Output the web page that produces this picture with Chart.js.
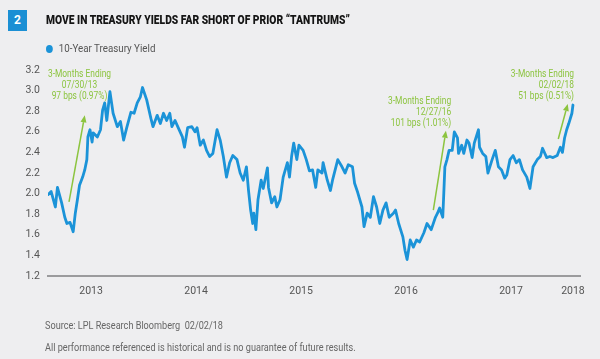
<!DOCTYPE html>
<html>
<head>
<meta charset="utf-8">
<script src="https://cdn.jsdelivr.net/npm/chart.js@4/dist/chart.umd.min.js"></script>
<style>
  html, body { margin: 0; padding: 0; background: #eeeef0; }
  body { width: 600px; height: 359px; position: relative; overflow: hidden;
         font-family: Roboto, "Liberation Sans", sans-serif; }
  #wrap { position: absolute; left: 0; top: 0; width: 600px; height: 359px; }
  .abs { position: absolute; white-space: nowrap; transform-origin: 0 50%; }
  #badge { left: 8px; top: 10px; width: 19px; height: 21px; background: #1b8fd4; color: #fff;
           font-weight: bold; font-size: 12px; line-height: 21px; text-align: center; }
  #title { left: 46px; top: 12px; font-weight: 900; font-size: 13px; color: #151515; line-height: 16px;
           transform: scaleX(0.79); }
  #legend { left: 46px; top: 41px; font-size: 11.5px; color: #555; line-height: 14px; transform: scaleX(0.85); }
  #legend .dot { display: inline-block; width: 8px; height: 8px; border-radius: 50%; background: #1b93d8;
                 margin-right: 7px; vertical-align: -0.5px; }
  .foot { left: 45px; font-size: 11px; color: #666; transform: scaleX(0.83); line-height: 14px; }
</style>
</head>
<body>
<div id="wrap"><canvas id="c" width="600" height="359"></canvas></div>
<div id="badge" class="abs">2</div>
<div id="title" class="abs">MOVE IN TREASURY YIELDS FAR SHORT OF PRIOR “TANTRUMS”</div>
<div id="legend" class="abs"><span class="dot"></span>10-Year Treasury Yield</div>
<div class="abs foot" style="top:319px;">Source: LPL Research Bloomberg &nbsp;02/02/18</div>
<div class="abs foot" style="top:341px;">All performance referenced is historical and is no guarantee of future results.</div>
<script>
// x values: fractional years
const dates = [
2013.09,2013.12,2013.16,2013.18,2013.22,2013.25,2013.27,2013.30,2013.33,2013.35,2013.37,2013.39,2013.42,2013.44,2013.46,2013.47,2013.49,2013.51,2013.52,2013.56,2013.59,2013.61,2013.63,2013.65,2013.68,2013.71,2013.75,2013.78,2013.81,2013.84,2013.88,2013.91,2013.94,2013.97,2013.99,
2014.03,2014.07,2014.09,2014.13,2014.16,2014.19,2014.22,2014.25,2014.27,2014.30,2014.33,2014.37,2014.39,2014.42,2014.46,2014.49,2014.51,2014.54,2014.57,2014.60,2014.63,2014.66,2014.70,2014.73,2014.76,2014.79,2014.82,2014.85,2014.89,2014.92,2014.95,2014.98,
2015.00,2015.02,2015.04,2015.05,2015.07,2015.09,2015.12,2015.14,2015.18,2015.19,2015.22,2015.25,2015.27,2015.30,2015.33,2015.37,2015.39,2015.41,2015.43,2015.46,2015.48,2015.52,2015.55,2015.58,2015.61,2015.64,2015.66,2015.70,2015.71,2015.75,2015.78,2015.80,2015.85,2015.89,2015.92,2015.95,2015.99,
2016.01,2016.04,2016.08,2016.10,2016.13,2016.16,2016.19,2016.22,2016.25,2016.28,2016.31,2016.34,2016.38,2016.40,2016.43,2016.47,2016.49,2016.51,2016.54,2016.57,2016.60,2016.63,2016.67,2016.70,2016.74,2016.78,2016.80,2016.82,2016.85,2016.86,2016.87,2016.89,2016.91,2016.94,2016.96,2016.99,
2017.00,2017.03,2017.05,2017.08,2017.10,2017.13,2017.15,2017.19,2017.20,2017.23,2017.26,2017.28,2017.32,2017.35,2017.38,2017.41,2017.44,2017.46,2017.49,2017.52,2017.55,2017.58,2017.61,2017.65,2017.68,2017.71,2017.75,2017.78,2017.80,2017.84,2017.87,2017.90,2017.94,2017.97,2017.99,
2018.01,2018.03,2018.05,2018.08,2018.09
];
const yields = [
1.99,2.02,1.87,2.06,1.91,1.77,1.71,1.72,1.63,1.81,1.94,2.08,2.16,2.23,2.33,2.55,2.62,2.50,2.59,2.55,2.62,2.81,2.88,2.71,2.99,2.78,2.65,2.70,2.52,2.64,2.79,2.78,2.88,2.94,3.03,
2.91,2.73,2.65,2.76,2.68,2.78,2.71,2.78,2.65,2.71,2.64,2.55,2.45,2.64,2.65,2.60,2.64,2.47,2.52,2.42,2.36,2.39,2.62,2.52,2.36,2.16,2.30,2.37,2.33,2.20,2.13,2.26,
2.03,1.84,1.71,1.81,1.65,1.94,2.13,2.05,2.25,2.06,1.91,1.97,1.87,1.94,2.16,2.30,2.16,2.36,2.49,2.33,2.47,2.42,2.33,2.22,2.23,2.06,2.23,2.20,2.30,2.13,2.03,2.13,2.33,2.26,2.20,2.28,2.26,
2.10,2.01,1.87,1.68,1.81,1.77,1.97,1.87,1.71,1.84,1.91,1.77,1.81,1.84,1.71,1.58,1.45,1.36,1.55,1.48,1.55,1.53,1.62,1.71,1.65,1.77,1.81,1.86,1.77,2.01,2.26,2.33,2.42,2.42,2.60,2.54,
2.39,2.47,2.39,2.52,2.49,2.35,2.49,2.62,2.45,2.39,2.36,2.20,2.33,2.42,2.26,2.23,2.15,2.18,2.33,2.37,2.30,2.33,2.23,2.16,2.05,2.26,2.33,2.36,2.44,2.35,2.36,2.35,2.37,2.45,2.40,
2.54,2.62,2.68,2.78,2.86
];
const yTicks = [1.2,1.4,1.6,1.8,2.0,2.2,2.4,2.6,2.8,3.0,3.2];
const xTickValues = [2013.5,2014.5,2015.5,2016.5,2017.5,2018.09];
const xTickLabels = ['2013','2014','2015','2016','2017','2018'];
const seriesName = '10-Year Treasury Yield';

// annotations: arrow from (x0,y0) to (x1,y1); text anchored at (tx,ty)
const annotations = [
  { x0: 2013.29, y0: 1.92, x1: 2013.44, y1: 2.76, tx: 2013.39, ty: 3.16, align: 'center',
    lines: ['3-Months Ending', '07/30/13', '97 bps (0.97%)'] },
  { x0: 2016.76, y0: 1.84, x1: 2016.88, y1: 2.61, tx: 2016.93, ty: 2.90, align: 'right',
    lines: ['3-Months Ending', '12/27/16', '101 bps (1.01%)'] },
  { x0: 2017.95, y0: 2.53, x1: 2018.04, y1: 2.87, tx: 2018.10, ty: 3.16, align: 'right',
    lines: ['3-Months Ending', '02/02/18', '51 bps (0.51%)'] }
];

const FONT = 'Roboto,"Liberation Sans",sans-serif';
const GREEN = '#8cc43f';
const BLUE = '#1b93d8';

const annotationPlugin = {
  id: 'annots',
  afterDatasetsDraw(chart) {
    const ctx = chart.ctx, xs = chart.scales.x, ys = chart.scales.y;
    ctx.save();
    annotations.forEach(a => {
      const px0 = xs.getPixelForValue(a.x0), py0 = ys.getPixelForValue(a.y0);
      const px1 = xs.getPixelForValue(a.x1), py1 = ys.getPixelForValue(a.y1);
      const ang = Math.atan2(py1 - py0, px1 - px0);
      const hl = 7, hw = 3;
      ctx.strokeStyle = GREEN; ctx.fillStyle = GREEN; ctx.lineWidth = 1.5;
      ctx.beginPath();
      ctx.moveTo(px0, py0);
      ctx.lineTo(px1 - hl * Math.cos(ang), py1 - hl * Math.sin(ang));
      ctx.stroke();
      ctx.beginPath();
      ctx.moveTo(px1, py1);
      ctx.lineTo(px1 - hl * Math.cos(ang) + hw * Math.sin(ang), py1 - hl * Math.sin(ang) - hw * Math.cos(ang));
      ctx.lineTo(px1 - hl * Math.cos(ang) - hw * Math.sin(ang), py1 - hl * Math.sin(ang) + hw * Math.cos(ang));
      ctx.closePath();
      ctx.fill();
      const tx = xs.getPixelForValue(a.tx), ty = ys.getPixelForValue(a.ty);
      ctx.font = '10.5px ' + FONT;
      ctx.textAlign = a.align;
      ctx.textBaseline = 'middle';
      a.lines.forEach((l, i) => {
        ctx.save();
        ctx.translate(tx, ty + i * 11);
        ctx.scale(0.8, 1);
        ctx.fillText(l, 0, 0);
        ctx.restore();
      });
    });
    ctx.restore();
  }
};

Chart.defaults.font.family = FONT;

new Chart(document.getElementById('c'), {
  type: 'line',
  data: {
    datasets: [{
      label: seriesName,
      data: dates.map((d, i) => ({ x: d, y: yields[i] })),
      borderColor: BLUE,
      backgroundColor: BLUE,
      borderWidth: 2.8,
      pointRadius: 0,
      tension: 0,
      borderJoinStyle: 'round',
      borderCapStyle: 'round'
    }]
  },
  options: {
    responsive: false,
    animation: false,
    layout: { padding: { left: 0, right: 20, top: 70, bottom: 0 } },
    plugins: { legend: { display: false }, tooltip: { enabled: false } },
    scales: {
      x: {
        type: 'linear',
        min: 2013.09,
        max: 2018.157,
        grid: { display: false, drawTicks: false },
        border: { display: true, color: '#9b9b9d', width: 2 },
        afterFit(s) { s.height = 83; },
        afterBuildTicks(s) { s.ticks = xTickValues.map(v => ({ value: v })); },
        ticks: {
          autoSkip: false, maxRotation: 0, padding: 9,
          color: '#555', font: { size: 10.5, family: FONT },
          callback(v) { const i = xTickValues.indexOf(v); return i >= 0 ? xTickLabels[i] : ''; }
        }
      },
      y: {
        min: 1.2,
        max: 3.2,
        grid: { display: false, drawTicks: false },
        border: { display: false },
        afterFit(s) { s.width = 48; },
        afterBuildTicks(s) { s.ticks = yTicks.map(v => ({ value: v })); },
        ticks: {
          padding: 8, color: '#555', font: { size: 10.5, family: FONT },
          callback(v) { return Number(v).toFixed(1); }
        }
      }
    }
  },
  plugins: [annotationPlugin]
});
</script>
</body>
</html>
